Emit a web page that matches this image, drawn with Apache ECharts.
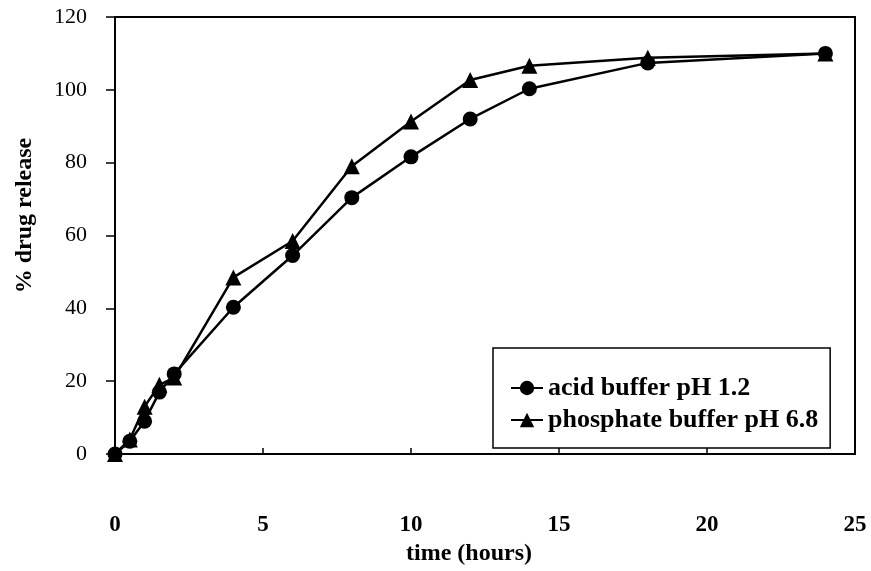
<!DOCTYPE html>
<html>
<head>
<meta charset="utf-8">
<script src="https://cdn.jsdelivr.net/npm/echarts@6/dist/echarts.min.js"></script>
<style>
    html, body { margin: 0; padding: 0; background: #fff; }
    #chart { width: 871px; height: 571px; }
</style>
</head>
<body>
<div id="chart"></div>
<script>
// time points (hours)
const timeHours = [0, 0.5, 1, 1.5, 2, 4, 6, 8, 10, 12, 14, 18, 24];
// % drug release
const acidBuffer = [0, 3.5, 9, 17, 22, 40.3, 54.5, 70.4, 81.6, 92, 100.3, 107.4, 110];
const phosphateBuffer = [0, 4, 13, 19, 21, 48.5, 58.5, 79, 91.3, 102.7, 106.6, 108.8, 110];

const seriesNames = ['acid buffer pH 1.2', 'phosphate buffer pH 6.8'];

const serif = '"Liberation Serif", "DejaVu Serif", serif';

function pairs(values) {
    return timeHours.map((t, i) => [t, values[i]]);
}

let chart = echarts.init(document.getElementById('chart'));
let option = {
    backgroundColor: '#fff',
    animation: false,
    grid: {
        left: 115,
        right: 16,
        top: 17,
        bottom: 116,
        show: true,
        borderColor: '#000',
        borderWidth: 2,
    },
    legend: {
        data: seriesNames,
        orient: 'vertical',
        left: 493,
        top: 348,
        backgroundColor: '#fff',
        borderColor: '#000',
        borderWidth: 1.5,
        borderRadius: 0,
        padding: [27, 12, 15, 17],
        itemWidth: 32,
        itemHeight: 18,
        itemGap: 6,
        textStyle: {
            fontFamily: serif,
            fontWeight: 'bold',
            fontSize: 26,
            color: '#000',
        },
    },
    xAxis: {
        type: 'value',
        min: 0,
        max: 25,
        interval: 5,
        name: 'time (hours)',
        nameLocation: 'middle',
        nameGap: 88,
        nameTextStyle: {
            fontFamily: serif,
            fontWeight: 'bold',
            fontSize: 24,
            color: '#000',
            padding: [0, 32, 0, 0],
        },
        axisLine: { lineStyle: { color: '#000', width: 2 } },
        axisTick: { inside: true, length: 6, lineStyle: { color: '#000', width: 1.5 } },
        axisLabel: {
            margin: 60,
            fontFamily: serif,
            fontWeight: 'bold',
            fontSize: 23,
            color: '#000',
        },
        splitLine: { show: false },
    },
    yAxis: {
        type: 'value',
        min: 0,
        max: 120,
        interval: 20,
        name: '% drug release',
        nameLocation: 'middle',
        nameGap: 78,
        nameTextStyle: {
            fontFamily: serif,
            fontWeight: 'bold',
            fontSize: 24,
            color: '#000',
            padding: [0, 0, 0, 40],
        },
        axisLine: { show: true, lineStyle: { color: '#000', width: 2 } },
        axisTick: { show: true, length: 9, lineStyle: { color: '#000', width: 1.5 } },
        axisLabel: {
            margin: 28,
            fontFamily: serif,
            fontSize: 22,
            color: '#000',
        },
        splitLine: { show: false },
    },
    series: [
        {
            name: seriesNames[0],
            type: 'line',
            z: 3,
            data: pairs(acidBuffer),
            symbol: 'circle',
            symbolSize: 15,
            color: '#000',
            lineStyle: { color: '#000', width: 2.5 },
            itemStyle: { color: '#000' },
        },
        {
            name: seriesNames[1],
            type: 'line',
            z: 2,
            data: pairs(phosphateBuffer),
            symbol: 'triangle',
            symbolSize: 16,
            color: '#000',
            lineStyle: { color: '#000', width: 2.5 },
            itemStyle: { color: '#000' },
        },
    ],
};
chart.setOption(option);
</script>
</body>
</html>
